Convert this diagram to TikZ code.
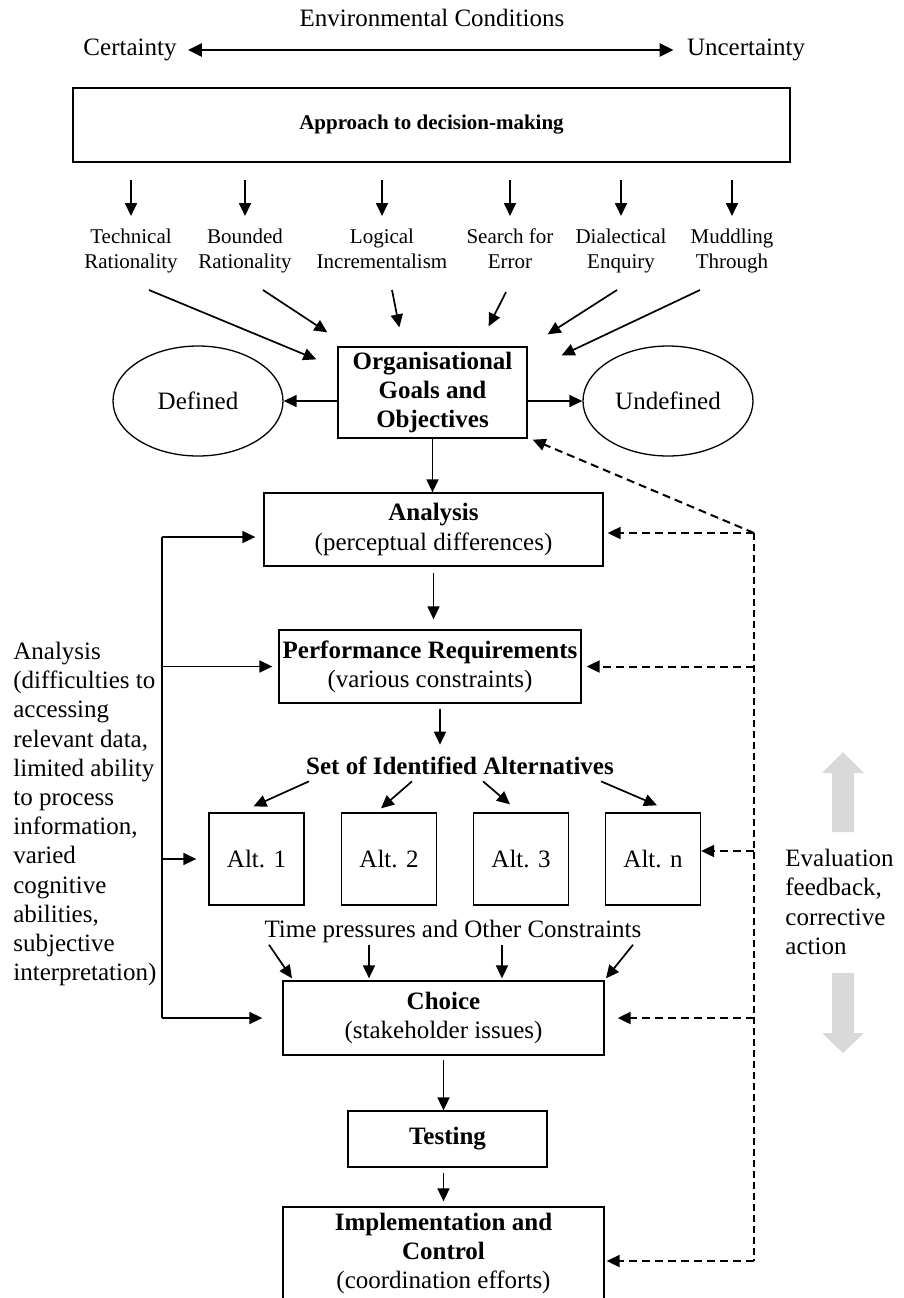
\documentclass[tikz,border=0pt]{standalone}
\usepackage{fontspec}
\setmainfont{Liberation Serif}
\usepackage{xcolor}
\usepackage{tikz}
\usetikzlibrary{calc,arrows.meta,shapes.geometric,positioning}
\definecolor{ink}{HTML}{000000}
\definecolor{softgray}{HTML}{D9D9D9}
\newcommand{\mainsize}{\fontsize{12.5}{14.6}\selectfont}
\newcommand{\smallsize}{\fontsize{10.5}{12.5}\selectfont}
\tikzset{
  box/.style={draw=ink, line width=0.65pt, align=center, inner sep=1pt, font=\mainsize},
  oval/.style={draw=ink, line width=0.65pt, ellipse, minimum width=85pt, minimum height=55pt, font=\mainsize},
  lab/.style={text=ink, font=\mainsize, inner sep=0pt},
  labs/.style={text=ink, font=\smallsize, inner sep=0pt, align=center, anchor=north},
  link/.style={draw=ink, line width=0.85pt},
  arr/.style={draw=ink, line width=0.85pt, -{Triangle[length=6.5pt,width=6pt]}},
  dbl/.style={draw=ink, line width=1.2pt, {Triangle[length=7pt,width=6.5pt]}-{Triangle[length=7pt,width=6.5pt]}},
  fb/.style={draw=ink, line width=1pt, dash pattern=on 4pt off 2.5pt, -{Triangle[length=6.5pt,width=6pt]}},
  fbline/.style={draw=ink, line width=0.55pt, dash pattern=on 3.5pt off 2pt},
}

\begin{document}
\begin{tikzpicture}[x=0.5pt, y=-0.5pt]
\useasboundingbox (0,0) rectangle (904,1298);
% environmental conditions
\node[lab] (env) at (432,18) {Environmental Conditions};
\node[lab] (cer) at (130,50) {Certainty};
\node[lab] (unc) at (746,50) {Uncertainty};
\draw[dbl, shorten <=5.5pt, shorten >=6.5pt] (cer) -- (unc);
\node[box, font=\smallsize\bfseries, minimum width=358.5pt, minimum height=37pt] (app) at (431.5,125) {Approach to decision-making};

% approaches
\node[labs] (tr) at (131,226) {\strut Technical\\Rationality};
\node[labs] (br) at (245,226) {\strut Bounded\\Rationality};
\node[labs] (li) at (382,226) {\strut Logical\\Incrementalism};
\node[labs] (se) at (510,226) {\strut Search for\\Error};
\node[labs] (de) at (621,226) {\strut Dialectical\\Enquiry};
\node[labs] (mu) at (732,226) {\strut Muddling\\Through};
\foreach \n in {tr,br,li,se,de,mu}
  \draw[arr, shorten <=8.5pt, shorten >=5pt] (\n.north |- app.south) -- (\n.north);

% goals
\node[box, font=\mainsize\bfseries, minimum width=94.5pt, minimum height=45.5pt] (org) at (432.5,392.5) {Organisational\\Goals and\\Objectives};
\node[oval] (def) at (198,401) {Defined};
\node[oval] (und) at (668,401) {Undefined};
\draw[arr] (org.west |- def) -- (def);
\draw[arr] (org.east |- und) -- (und);
\draw[arr] ($(tr.north)+(18,64)$) -- ($(org.north west)+(-21,13)$);
\draw[arr] ($(br.north)+(18,64)$) -- ($(org.north west)+(-10,-14)$);
\draw[arr] ($(li.north)+(10,64)$) -- ($(org.north west)+(62,-19)$);
\draw[arr] ($(se.north)+(-4,66)$) -- ($(org.north east)+(-39,-20)$);
\draw[arr] ($(de.north)+(-4,64)$) -- ($(org.north east)+(20,-12)$);
\draw[arr] ($(mu.north)+(-32,64)$) -- ($(org.north east)+(34,9)$);

% main chain
\node[box, minimum width=169.5pt, minimum height=36.5pt] (ana) at (433.5,529.5) {\textbf{Analysis}\\(perceptual differences)};
\node[box, minimum width=151pt, minimum height=36.5pt] (per) at (430,666.5) {\textbf{Performance Requirements}\\(various constraints)};
\node[lab, font=\mainsize\bfseries] (set) at (460,766) {Set of Identified Alternatives};
\draw[arr] (org) -- (org |- ana.north);
\draw[arr, shorten <=3pt, shorten >=5pt] (ana.south) -- (ana.south |- per.north);
\draw[arr, shorten <=2.5pt, shorten >=6pt] ([xshift=5pt]per.south) -- ([xshift=5pt]per.south |- set.north);

\node[box, minimum width=47.5pt, minimum height=46pt] (a1) at (256.5,859) {Alt. 1};
\node[box, minimum width=47.5pt, minimum height=46pt] (a2) at (389,859) {Alt. 2};
\node[box, minimum width=47.5pt, minimum height=46pt] (a3) at (521,859) {Alt. 3};
\node[box, minimum width=47.5pt, minimum height=46pt] (an) at (653,859) {Alt. n};
\draw[arr] ($(set.south)+(-151,6)$) -- ($(a1.north)+(-3,-6)$);
\draw[arr] ($(set.south)+(-48,6)$) -- ($(a2.north)+(-8,-4)$);
\draw[arr] ($(set.south)+(23,6)$) -- ($(a3.north)+(-11,-8)$);
\draw[arr] ($(set.south)+(141,6)$) -- ($(an.north)+(4,-7)$);

\node[lab] (tim) at (453,931) {Time pressures and Other Constraints};
\node[box, minimum width=160.5pt, minimum height=37pt] (cho) at (443.5,1018) {\textbf{Choice}\\(stakeholder issues)};
\draw[arr] ($(tim.south)+(-184,2)$) -- ($(cho.north)+(-151.5,-2)$);
\draw[arr] ($(tim.south)+(-84,2)$) -- ($(cho.north)+(-74.5,-2)$);
\draw[arr] ($(tim.south)+(49,2)$) -- ($(cho.north)+(58.5,-2)$);
\draw[arr] ($(tim.south)+(180,2)$) -- ($(cho.north)+(162.5,-2)$);

\node[box, font=\mainsize\bfseries, minimum width=99.5pt, minimum height=28pt] (tes) at (447.5,1139) {Testing};
\node[box, minimum width=160.5pt, minimum height=46.5pt] (imp) at (443.5,1253.5) {\textbf{Implementation and}\\\textbf{Control}\\(coordination efforts)};
\draw[arr, shorten <=2pt] (cho.south) -- (cho.south |- tes.north);
\draw[arr, shorten <=2.5pt, shorten >=2.5pt] (imp.north |- tes.south) -- (imp.north);

% analysis bracket on the left
\node[lab, align=left, anchor=west] (note) at (13,814) {Analysis\\(difficulties to\\accessing\\relevant data,\\limited ability\\to process\\information,\\varied\\cognitive\\abilities,\\subjective\\interpretation)};
\coordinate (lft) at (162,0);
\coordinate (anain) at ([yshift=-3.75pt]ana.west);
\draw[link] (lft |- anain) -- (lft |- cho.west);
\draw[arr, shorten >=4pt] (lft |- anain) -- (anain);
\draw[arr, shorten >=3pt] (lft |- per.west) -- (per.west);
\draw[arr, shorten >=6pt] (lft |- a1.west) -- (a1.west);
\draw[arr, shorten >=10pt] (lft |- cho.west) -- (cho.west);

% feedback loop
\coordinate (fb) at (754,533);
\coordinate (fbend) at (754,1261);
\coordinate (anin) at ([yshift=4pt]an.east);
\coordinate (imin) at ([yshift=-3.75pt]imp.east);
\draw[fbline] (fb) -- (fbend);
\draw[fb] (fb) -- ($(org.south east)+(5,1)$);
\draw[fb, shorten >=2pt] (fb) -- (fb -| ana.east);
\draw[fb, shorten >=2.5pt] (fb |- per.east) -- (per.east);
\draw[fb] (fb |- anin) -- (anin);
\draw[fb, shorten >=6.5pt] (fb |- cho.east) -- (cho.east);
\draw[fb, shorten >=1pt] (fbend) -- (imin);

\node[lab, align=left, anchor=west] (eval) at (785,902) {Evaluation\\feedback,\\corrective\\action};
\fill[softgray] (832,832) -- (832,773) -- (822,773) -- (843,752) -- (864,773) -- (854,773) -- (854,832) -- cycle;
\fill[softgray] (832,973) -- (832,1033) -- (822,1033) -- (843,1053) -- (864,1033) -- (854,1033) -- (854,973) -- cycle;
\end{tikzpicture}
\end{document}
